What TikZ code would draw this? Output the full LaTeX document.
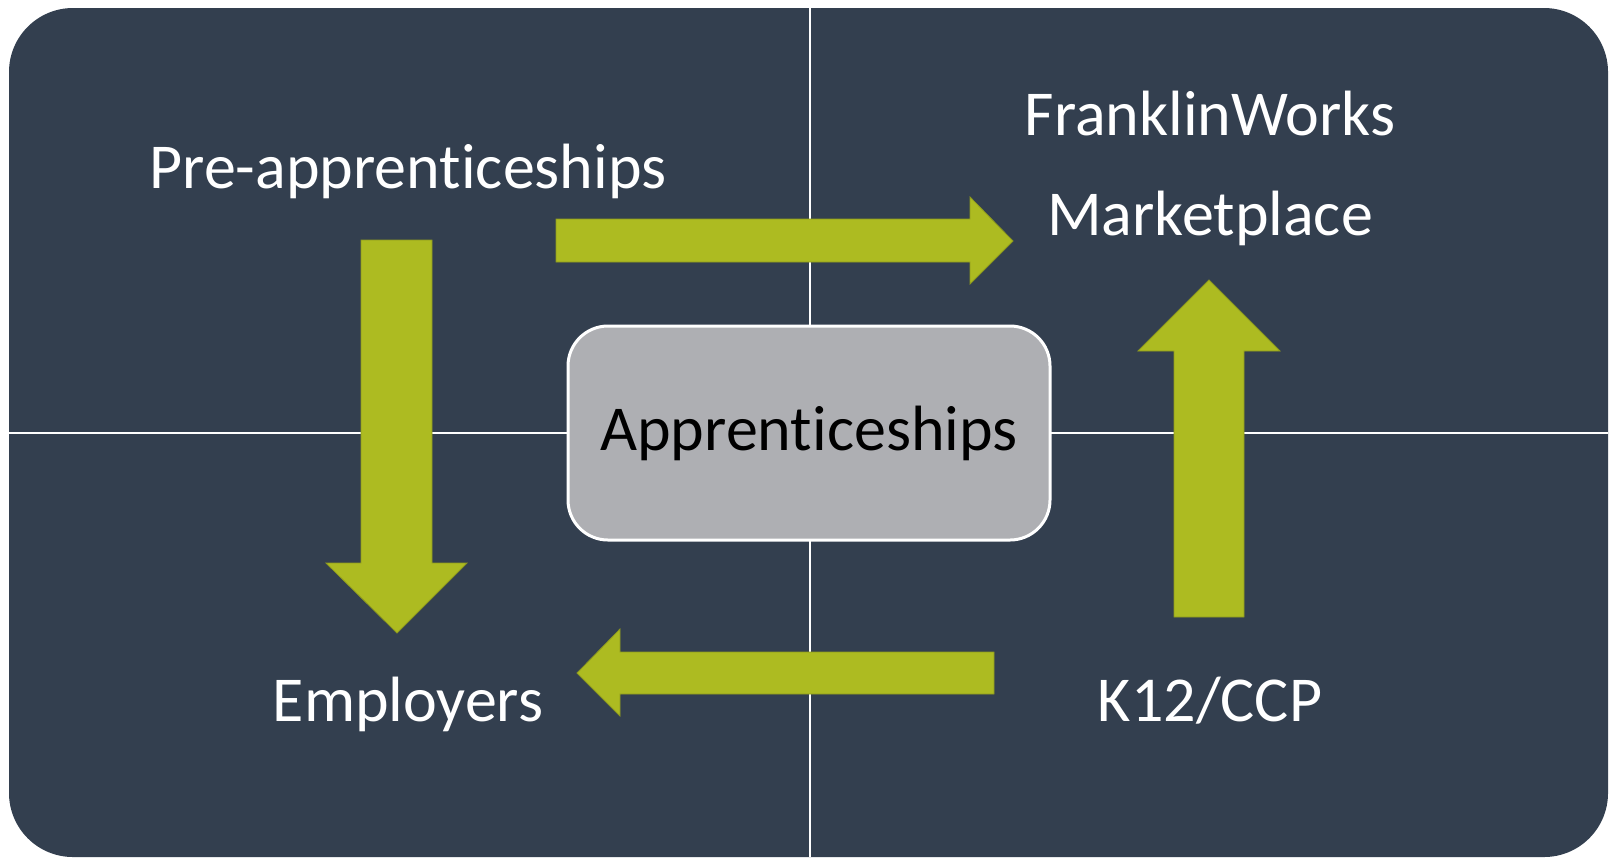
\documentclass[tikz,border=0pt]{standalone}
\usepackage{fontspec}
\setmainfont{Carlito}[RawFeature={-liga;-clig;-calt;-dlig}]
\usepackage{xcolor}
\usepackage{tikz}
\usetikzlibrary{positioning}

\definecolor{slate}{HTML}{333F4F}
\definecolor{olive}{HTML}{ADBB21}
\definecolor{oliveedge}{HTML}{8E9A1E}
\definecolor{boxgray}{HTML}{AEAFB3}

\tikzset{
  blockarrow/.style={fill=olive, draw=oliveedge, line width=0.4pt},
  label/.style={text=white, anchor=base, font=\fontsize{32}{38}\selectfont, inner sep=0pt},
}

\begin{document}
\begin{tikzpicture}[x=0.5pt, y=-0.5pt]
\useasboundingbox (0,0) rectangle (1610,859);

% Draw background panel
\fill[slate, rounded corners=32pt] (9,8) rectangle (1608,857);

% Draw dividers
\draw[white, line width=1.3pt] (810,8) -- (810,857);
\draw[white, line width=1.3pt] (9,433) -- (1608,433);

% Draw labels
\node[label] (pre) at (408,188) {Pre-apprenticeships};
\node[label] (fw) at (1210,135) {FranklinWorks};
\node[label] (mkt) at (1210,235) {Marketplace};
\node[label] (emp) at (408,721) {Employers};
\node[label] (k12) at (1210,721) {K12/CCP};

% Draw block arrows
\filldraw[blockarrow] (556,219) -- (970,219) -- (970,197) -- (1013,241) -- (970,284) -- (970,262) -- (556,262) -- cycle;
\filldraw[blockarrow] (361,240) -- (432,240) -- (432,563) -- (467,563) -- (397,633) -- (326,563) -- (361,563) -- cycle;
\filldraw[blockarrow] (1174,617) -- (1244,617) -- (1244,351) -- (1280,351) -- (1209,280) -- (1138,351) -- (1174,351) -- cycle;
\filldraw[blockarrow] (994,652) -- (620,652) -- (620,629) -- (577,673) -- (620,716) -- (620,694) -- (994,694) -- cycle;

% Draw center box
\node[draw=white, line width=1.5pt, fill=boxgray, rounded corners=20pt,
      minimum width=241pt, minimum height=107pt, inner sep=0pt,
      font=\fontsize{32}{38}\selectfont] (app) at (809,433) {Apprenticeships};

\end{tikzpicture}
\end{document}
